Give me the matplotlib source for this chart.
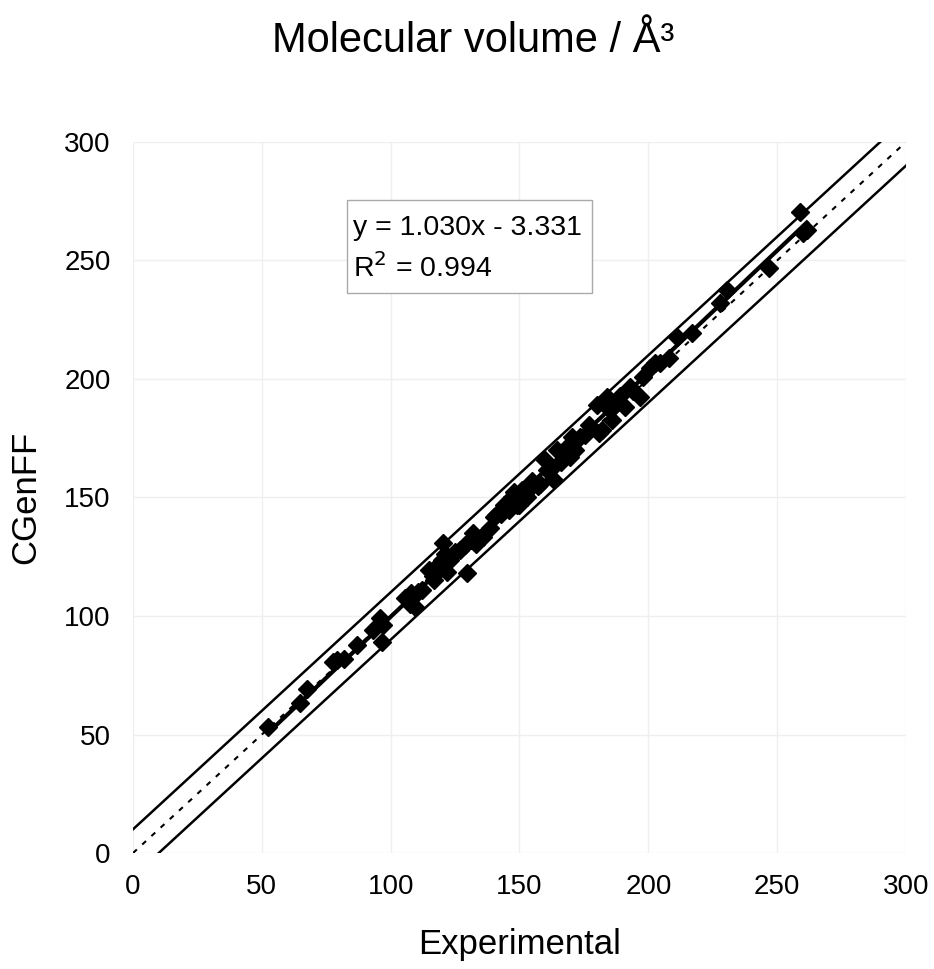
import matplotlib
matplotlib.use("Agg")
import matplotlib.pyplot as plt
from matplotlib.patches import Rectangle
import numpy as np

plt.rcParams['font.family'] = ['Liberation Sans', 'DejaVu Sans']

title = "Molecular volume / Å³"
xlabel = "Experimental"
ylabel = "CGenFF"
ticks = [0, 50, 100, 150, 200, 250, 300]

experimental = [52.5, 65, 67.5, 77.5, 79, 82, 87, 93, 95.8, 96.6, 97,
                105.5, 107.5, 108, 109.4, 110.6, 112, 115, 116.4, 117, 118,
                119, 120, 120.3, 121, 122, 123, 125, 127, 128.8, 129.6, 131,
                132, 133, 135, 136, 138.5, 140, 141, 143, 144, 146, 147, 148,
                149, 150, 151, 152, 153, 154, 155, 157, 158, 160, 160.6, 162,
                163, 164.5, 166, 168, 169.6, 170.4, 171.5, 173.5, 175.4, 177,
                180, 181, 182, 184, 185, 186, 187, 189, 191, 193, 194, 196.7,
                198, 200.6, 202.6, 204.5, 208, 211, 217, 228, 230.5, 247, 259,
                260, 261.5]
cgenff = [53.2, 63.3, 69, 80.5, 81.4, 82, 87.8, 94, 99, 89, 96.2,
          107.6, 105, 109.7, 103.6, 110, 111, 119.4, 117, 115, 121,
          121.5, 123.6, 131, 126, 118.5, 123.6, 127, 127.8, 130, 118, 132,
          135, 130.5, 133, 133.3, 137, 141.8, 142.6, 143, 146.8, 144.7, 150, 152.3,
          147, 146.8, 153, 151, 150, 154, 157, 155, 155.5, 166, 161.6, 161.6,
          158, 170, 165, 170.9, 167, 175.5, 170, 175.5, 176.4, 180.6,
          189, 177, 178.5, 192.4, 187, 182.7, 189, 193, 188, 196.6, 195, 192.4,
          201, 204.6, 206.7, 206.7, 209, 217.7, 219.4, 232, 237.5, 247, 270.5,
          261.6, 263]

fit_slope = 1.030
fit_intercept = -3.331
fit_r2 = 0.994
band = 10

fig = plt.figure(figsize=(9.34, 9.69), dpi=100)
ax = fig.add_axes([0.1424, 0.1197, 0.8276, 0.7338])

ax.set_xlim(0, 300)
ax.set_ylim(0, 300)
ax.set_xticks(ticks)
ax.set_yticks(ticks)
ax.grid(True, color='#efefef', linewidth=1.0)
ax.set_axisbelow(True)
for s in ax.spines.values():
    s.set_visible(False)
ax.tick_params(axis='y', length=0, labelsize=20, pad=16)
ax.tick_params(axis='x', length=0, labelsize=20, pad=15)

xx = np.array([0, 300])
ax.plot(xx, xx, color='black', linestyle=(0, (2.5, 3.5)), linewidth=1.5)
ax.plot(xx, xx + band, color='black', linewidth=1.8)
ax.plot(xx, xx - band, color='black', linewidth=1.8)

ex = np.array(experimental)
fx = np.array([ex.min(), ex.max()])
ax.plot(fx, fit_slope * fx + fit_intercept, color='black', linewidth=3)

ax.plot(experimental, cgenff, linestyle='none', marker='D', markersize=9,
        color='black')

# equation box
ax.add_patch(Rectangle((0.2768, 0.7876), 0.3170, 0.1308, transform=ax.transAxes,
                       facecolor='white', edgecolor='#aaaaaa', linewidth=1,
                       zorder=5))
ax.text(0.284, 0.869, "y = %.3fx - %.3f" % (fit_slope, -fit_intercept),
        transform=ax.transAxes, fontsize=20.5, va='baseline', ha='left',
        zorder=6)
ax.text(0.284, 0.810, "R$^2$ = %.3f" % fit_r2,
        transform=ax.transAxes, fontsize=20.5, va='baseline', ha='left',
        zorder=6)

ax.set_xlabel(xlabel, fontsize=25, labelpad=20)
ax.set_ylabel(ylabel, fontsize=25, labelpad=16)
fig.text(0.507, 0.958, title, fontsize=30, ha='center', va='center')

fig.savefig("out.png", dpi=100)
